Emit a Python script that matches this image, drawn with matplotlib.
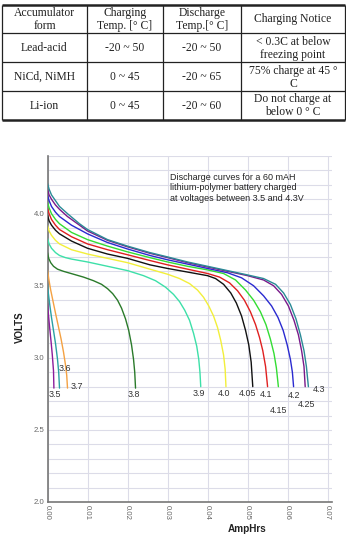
import matplotlib
matplotlib.use('Agg')
import matplotlib.pyplot as plt

W, H = 346, 535

# ---------------- table data ----------------
table_header = ['Accumulator\nform', 'Charging\nTemp. [° C]', 'Discharge\nTemp.[° C]', 'Charging Notice']
accumulator_types = ['Lead-acid', 'NiCd, NiMH', 'Li-ion']
charging_temps = ['-20 ~ 50', '0 ~ 45', '0 ~ 45']
discharge_temps = ['-20 ~ 50', '-20 ~ 65', '-20 ~ 60']
charging_notices = ['< 0.3C at below\nfreezing point', '75% charge at 45 °\nC', 'Do not charge at\nbelow 0 ° C']

# ---------------- chart data (AmpHrs, Volts) ----------------
amp_350 = [0.0, 0.0002, 0.0005, 0.0009, 0.0012, 0.0015, 0.0016]
volt_350 = [3.38, 3.31, 3.22, 3.11, 3.02, 2.91, 2.79]

amp_360 = [0.0, 0.0002, 0.0006, 0.001, 0.0015, 0.002, 0.0025, 0.0028, 0.0030]
volt_360 = [3.51, 3.45, 3.36, 3.28, 3.19, 3.10, 2.99, 2.90, 2.79]

amp_370 = [0.0, 0.0003, 0.0008, 0.0014, 0.002, 0.0027, 0.0034, 0.004, 0.0045, 0.0048, 0.0050]
volt_370 = [3.61, 3.55, 3.47, 3.39, 3.31, 3.22, 3.13, 3.04, 2.95, 2.88, 2.79]

amp_380 = [0.0, 0.0003, 0.0008, 0.0015, 0.0025, 0.004, 0.0065, 0.009, 0.0115, 0.0135, 0.015, 0.0163,
           0.0175, 0.0185, 0.0195, 0.0203, 0.021, 0.0215, 0.0218, 0.0220]
volt_380 = [3.73, 3.69, 3.66, 3.635, 3.615, 3.60, 3.58, 3.56, 3.535, 3.51, 3.48, 3.445,
            3.40, 3.345, 3.27, 3.19, 3.09, 2.99, 2.90, 2.79]

amp_390 = [0.0, 0.0004, 0.001, 0.002, 0.003, 0.0045, 0.006, 0.008, 0.01, 0.015, 0.02, 0.024, 0.027,
           0.0295, 0.0315, 0.033, 0.0343, 0.0355, 0.0365, 0.0373, 0.0378, 0.0381, 0.0383]
volt_390 = [3.83, 3.79, 3.76, 3.73, 3.71, 3.695, 3.685, 3.675, 3.665, 3.635, 3.605, 3.57, 3.535,
            3.49, 3.44, 3.39, 3.33, 3.26, 3.17, 3.08, 2.99, 2.90, 2.80]

amp_400 = [0.0, 0.0004, 0.001, 0.002, 0.003, 0.0045, 0.006, 0.008, 0.01, 0.015, 0.02, 0.0256, 0.03,
           0.033, 0.0355, 0.0375, 0.039, 0.0403, 0.0415, 0.0425, 0.0433, 0.044, 0.0444, 0.0446]
volt_400 = [3.92, 3.88, 3.85, 3.815, 3.79, 3.77, 3.75, 3.735, 3.72, 3.69, 3.66, 3.615, 3.58,
            3.55, 3.515, 3.47, 3.42, 3.36, 3.29, 3.21, 3.12, 3.02, 2.92, 2.80]

amp_405 = [0.0, 0.0004, 0.001, 0.002, 0.003, 0.0045, 0.006, 0.008, 0.01, 0.015, 0.02, 0.0256, 0.03,
           0.035, 0.04, 0.042, 0.044, 0.0458, 0.0472, 0.0485, 0.0495, 0.0503, 0.0509, 0.0513]
volt_405 = [3.99, 3.95, 3.92, 3.885, 3.86, 3.835, 3.81, 3.785, 3.76, 3.72, 3.69, 3.645, 3.62,
            3.595, 3.57, 3.55, 3.51, 3.45, 3.38, 3.29, 3.19, 3.09, 2.97, 2.80]

amp_410 = [0.0, 0.0004, 0.001, 0.002, 0.003, 0.0045, 0.006, 0.008, 0.01, 0.015, 0.02, 0.0256, 0.03,
           0.035, 0.04, 0.043, 0.0455, 0.0475, 0.0492, 0.0507, 0.052, 0.053, 0.0538, 0.0545, 0.055]
volt_410 = [4.04, 4.00, 3.96, 3.92, 3.89, 3.865, 3.84, 3.815, 3.79, 3.75, 3.715, 3.675, 3.645,
            3.615, 3.585, 3.56, 3.52, 3.465, 3.40, 3.32, 3.23, 3.14, 3.05, 2.94, 2.80]

amp_415 = [0.0, 0.0004, 0.001, 0.002, 0.003, 0.0045, 0.006, 0.008, 0.01, 0.015, 0.02, 0.0256, 0.03,
           0.035, 0.04, 0.044, 0.047, 0.0495, 0.0515, 0.0532, 0.0546, 0.0557, 0.0566, 0.0572, 0.0577]
volt_415 = [4.08, 4.04, 4.00, 3.96, 3.93, 3.90, 3.87, 3.845, 3.82, 3.775, 3.735, 3.695, 3.665,
            3.635, 3.61, 3.585, 3.54, 3.47, 3.40, 3.32, 3.23, 3.13, 3.03, 2.93, 2.80]

amp_420 = [0.0, 0.0004, 0.001, 0.002, 0.003, 0.0045, 0.006, 0.008, 0.01, 0.015, 0.02, 0.0256, 0.03,
           0.035, 0.04, 0.045, 0.0485, 0.0515, 0.054, 0.056, 0.0576, 0.0589, 0.0599, 0.0607, 0.0612, 0.0615]
volt_420 = [4.13, 4.09, 4.05, 4.01, 3.98, 3.95, 3.92, 3.89, 3.86, 3.80, 3.755, 3.71, 3.68,
            3.65, 3.62, 3.59, 3.555, 3.50, 3.43, 3.36, 3.28, 3.19, 3.09, 2.99, 2.90, 2.80]

amp_425 = [0.0, 0.0004, 0.001, 0.002, 0.003, 0.005, 0.008, 0.01, 0.015, 0.02, 0.0256, 0.03, 0.035,
           0.04, 0.045, 0.05, 0.054, 0.0565, 0.0585, 0.0602, 0.0616, 0.0627, 0.0635, 0.0641, 0.0644]
volt_425 = [4.17, 4.13, 4.10, 4.06, 4.03, 3.98, 3.92, 3.88, 3.815, 3.77, 3.725, 3.695, 3.66,
            3.63, 3.60, 3.57, 3.54, 3.50, 3.44, 3.36, 3.26, 3.16, 3.05, 2.94, 2.80]

amp_430 = [0.0, 0.0004, 0.001, 0.002, 0.003, 0.005, 0.008, 0.01, 0.015, 0.02, 0.0256, 0.03, 0.035,
           0.04, 0.045, 0.05, 0.054, 0.057, 0.059, 0.0607, 0.0621, 0.0632, 0.0641, 0.0647, 0.0652]
volt_430 = [4.21, 4.17, 4.13, 4.09, 4.05, 4.00, 3.93, 3.89, 3.82, 3.775, 3.73, 3.70, 3.665,
            3.635, 3.605, 3.575, 3.55, 3.51, 3.45, 3.37, 3.27, 3.16, 3.05, 2.94, 2.80]

curve_labels = ['3.5', '3.6', '3.7', '3.8', '3.9', '4.0', '4.05', '4.1', '4.15', '4.2', '4.25', '4.3']
curve_amps = [amp_350, amp_360, amp_370, amp_380, amp_390, amp_400, amp_405, amp_410, amp_415, amp_420, amp_425, amp_430]
curve_volts = [volt_350, volt_360, volt_370, volt_380, volt_390, volt_400, volt_405, volt_410, volt_415, volt_420, volt_425, volt_430]

# styling / layout
curve_colors = ['#8b1c9b', '#2aa0a4', '#f4a142', '#2a7a2a', '#3de0a8', '#f2ef3a',
                '#111111', '#e02020', '#33dd33', '#2a2ad0', '#7a1a8a', '#2a8a96']
label_pos = [(0.0019, 2.743), (0.0044, 2.924), (0.0074, 2.799), (0.0215, 2.748),
             (0.0379, 2.75), (0.0441, 2.75), (0.0501, 2.75), (0.0546, 2.743),
             (0.0577, 2.634), (0.0616, 2.736), (0.0648, 2.674), (0.0679, 2.783)]

x_ticks = [0.00, 0.01, 0.02, 0.03, 0.04, 0.05, 0.06, 0.07]
y_ticks = [2.0, 2.5, 3.0, 3.5, 4.0]
y_minor = [2.1, 2.2, 2.3, 2.4, 2.6, 2.7, 2.8, 2.9, 3.1, 3.2, 3.3, 3.4, 3.6, 3.7, 3.8, 3.9, 4.1, 4.2, 4.3, 4.4]

fig = plt.figure(figsize=(W / 100, H / 100), dpi=100)
fig.patch.set_facecolor('white')

# ---------------- table ----------------
tax = fig.add_axes([0, 0, 1, 1])
tax.set_xlim(0, W)
tax.set_ylim(H, 0)
tax.axis('off')

col_edges = [2, 87, 163, 241, 345]
row_edges = [4.5, 33, 62, 91, 119.5]
tcolor = '#222222'
for i, y in enumerate(row_edges):
    lw = 1.8 if i in (0, len(row_edges) - 1) else 0.9
    tax.plot([col_edges[0], col_edges[-1]], [y, y], color=tcolor, lw=lw, solid_capstyle='butt')
for x in col_edges:
    tax.plot([x, x], [row_edges[0], row_edges[-1]], color=tcolor, lw=0.9, solid_capstyle='butt')

rows = [table_header] + [list(r) for r in zip(accumulator_types, charging_temps, discharge_temps, charging_notices)]
for r, row in enumerate(rows):
    yc = (row_edges[r] + row_edges[r + 1]) / 2
    for c, txt in enumerate(row):
        xc = (col_edges[c] + col_edges[c + 1]) / 2
        tax.text(xc, yc + 0.6, txt, ha='center', va='center', fontsize=8.4,
                 family='Liberation Serif', color=tcolor, linespacing=1.12)

# ---------------- chart ----------------
ax = fig.add_axes([47.5 / W, 1 - 502 / H, (332 - 47.5) / W, (502 - 156) / H])
ax.set_xlim(0, 0.0711)
ax.set_ylim(2.0, 4.4)
ax.set_facecolor('white')

for xs, vs, col in zip(curve_amps, curve_volts, curve_colors):
    ax.plot(xs, vs, color=col, lw=1.0, solid_capstyle='round', solid_joinstyle='round', zorder=3)

for lab, (lx, ly) in zip(curve_labels, label_pos):
    ax.text(lx, ly, lab, ha='center', va='center', fontsize=6.4,
            family='Liberation Sans', color='#333333', zorder=4)

ax.set_xticks(x_ticks)
ax.set_xticklabels(['%.2f' % v for v in x_ticks], rotation=270)
ax.set_yticks(y_ticks)
ax.set_yticklabels(['%.1f' % v for v in y_ticks])
ax.set_yticks(y_minor, minor=True)
ax.grid(which='both', color='#dcdce8', lw=0.8, zorder=0)
ax.set_axisbelow(True)
ax.tick_params(which='both', length=0, labelsize=5.6, labelcolor='#666666', pad=2)
for lab in ax.get_xticklabels() + ax.get_yticklabels():
    lab.set_family('Liberation Sans')
for s in ('top', 'right'):
    ax.spines[s].set_visible(False)
for s in ('left', 'bottom'):
    ax.spines[s].set_color('#777777')
    ax.spines[s].set_linewidth(1.2)

ax.text(0.0306, 4.283, 'Discharge curves for a 60 mAH\nlithium-polymer battery charged\nat voltages between 3.5 and 4.3V',
        ha='left', va='top', fontsize=6.5, family='Liberation Sans', color='#222222', linespacing=1.22)

fig.text(20 / W, 1 - 327 / H, 'VOLTS', rotation=90, ha='center', va='center',
         fontsize=7, fontweight='bold', family='Liberation Sans', color='#222222')
fig.text(247 / W, 1 - 529 / H, 'AmpHrs', ha='center', va='center',
         fontsize=7.2, fontweight='bold', family='Liberation Sans', color='#222222')

fig.savefig('out.png', dpi=100, facecolor='white')
